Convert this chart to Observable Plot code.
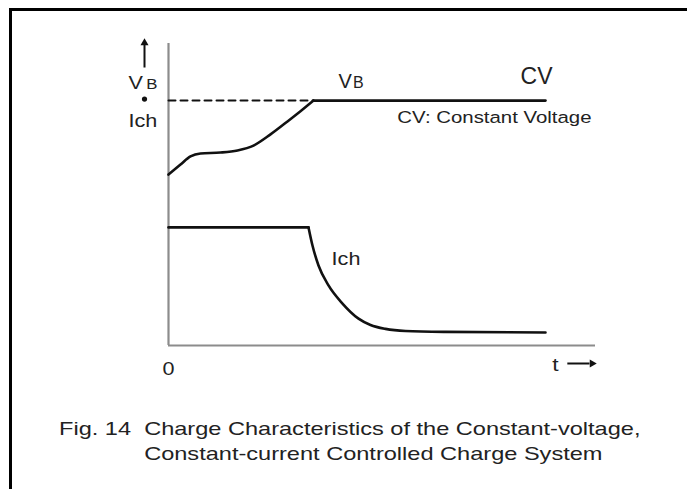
<!DOCTYPE html>
<html>
<head>
<meta charset="utf-8">
<script src="https://cdn.jsdelivr.net/npm/d3@7"></script>
<script src="https://cdn.jsdelivr.net/npm/@observablehq/plot@0.6"></script>
<style>
  html, body { margin: 0; padding: 0; background: #fff; }
  body { width: 687px; height: 489px; position: relative; overflow: hidden; font-family: "Liberation Sans", Arial, sans-serif; }
  #frame { position: absolute; left: 9px; top: 8px; width: 700px; height: 500px; border-top: 3px solid #000; border-left: 3px solid #000; pointer-events: none; }
  #chart { position: absolute; left: 0; top: 0; }
  #caption { position: absolute; left: 59px; top: 416px; display: flex; font-size: 19px; line-height: 25px; color: #222; white-space: pre; transform: scaleX(1.24); transform-origin: 0 0; }
</style>
</head>
<body>
<div id="chart"></div>
<div id="caption"><span>Fig. 14  </span><span>Charge Characteristics of the Constant-voltage,
Constant-current Controlled Charge System</span></div>
<div id="frame"></div>
<script>
// Time axis (0–100) and level axis (0–100)
const vbTime = [0, 2.81, 5.15, 7.49, 12.18, 16.16, 19.91, 23.89, 27.87, 30.91, 33.96];
const vbLevel = [56.6, 59.9, 62.6, 63.6, 63.9, 64.6, 66.2, 69.9, 74.2, 77.6, 81.1];
const cvTime = [33.96, 88.29];
const cvLevel = [81.1, 81.1];
const ichFlatTime = [0, 32.79];
const ichFlatLevel = [39.1, 39.1];
const ichDecayTime = [32.79, 33.72, 35.13, 37.47, 40.75, 44.5, 47.31, 50.82, 55.5, 64.87, 88.29];
const ichDecayLevel = [39.1, 33.1, 26.5, 19.9, 13.9, 8.9, 6.8, 5.5, 4.8, 4.5, 4.3];
const vbTarget = 81.1;
const vbTargetEnd = 33.96;

const zip = (xs, ys) => xs.map((x, i) => ({t: x, v: ys[i]}));
const vb = zip(vbTime, vbLevel);
const cv = zip(cvTime, cvLevel);
const ichFlat = zip(ichFlatTime, ichFlatLevel);
const ichDecay = zip(ichDecayTime, ichDecayLevel);
const dashed = [{t: 0, v: vbTarget}, {t: vbTargetEnd, v: vbTarget}];

const ink = "#111";
const txt = "#222";
const font = "Liberation Sans, Arial, sans-serif";
const lbl = (t, v, s, size, anchor = "start", cls = "wide") =>
  Plot.text([{t, v}], {x: "t", y: "v", text: () => s, fontSize: size, fill: txt, textAnchor: anchor, lineAnchor: "bottom", className: cls});

const chart = Plot.plot({
  width: 687,
  height: 489,
  marginLeft: 168,
  marginRight: 92,
  marginTop: 43,
  marginBottom: 144,
  x: {domain: [0, 100], axis: null},
  y: {domain: [0, 100], axis: null},
  style: {fontFamily: font, background: "transparent"},
  marks: [
    Plot.ruleX([0], {y1: 0, y2: 100, stroke: "#8c8c8c", strokeWidth: 2.2}),
    Plot.ruleY([0], {x1: 0, x2: 100, stroke: "#8c8c8c", strokeWidth: 2.2}),
    Plot.line(dashed, {x: "t", y: "v", stroke: ink, strokeWidth: 2, strokeDasharray: "7,5"}),
    Plot.line(vb, {x: "t", y: "v", stroke: ink, strokeWidth: 2.6, curve: "monotone-x"}),
    Plot.line(cv, {x: "t", y: "v", stroke: ink, strokeWidth: 2.6}),
    Plot.line(ichFlat, {x: "t", y: "v", stroke: ink, strokeWidth: 2.6}),
    Plot.line(ichDecay, {x: "t", y: "v", stroke: ink, strokeWidth: 2.6, curve: "monotone-x"}),
    // left axis label: arrow, VB, dot, Ich
    Plot.link([{x1: -5.62, y1: 92.05, x2: -5.62, y2: 99.5}], {x1: "x1", y1: "y1", x2: "x2", y2: "y2", stroke: ink, strokeWidth: 2}),
    Plot.dot([{t: -5.62, v: 100.2}], {x: "t", y: "v", symbol: "triangle", r: 3, fill: ink, stroke: null}),
    lbl(-9.37, 84.8, "V", 18),
    lbl(-5.2, 84.8, "B", 14),
    Plot.dot([{t: -5.62, v: 81.6}], {x: "t", y: "v", r: 2.6, fill: ink, stroke: null}),
    lbl(-9.37, 72.2, "Ich", 18),
    // curve labels
    lbl(39.8, 85.4, "V", 20, "start", "plain"),
    lbl(43.2, 85.4, "B", 16, "start", "plain"),
    lbl(86.2, 86.6, "CV", 23, "middle", "plain"),
    lbl(53.6, 73.8, "CV: Constant Voltage", 17),
    lbl(38.2, 26.8, "Ich", 18),
    // x axis labels
    lbl(0, -9.9, "0", 18, "middle"),
    lbl(90.6, -8.6, "t", 19, "middle"),
    Plot.link([{x1: 93.4, y1: -5.96, x2: 98.6, y2: -5.96}], {x1: "x1", y1: "y1", x2: "x2", y2: "y2", stroke: ink, strokeWidth: 2}),
    Plot.dot([{t: 99.2, v: -5.96}], {x: "t", y: "v", symbol: "triangle", rotate: 90, r: 3, fill: ink, stroke: null})
  ]
});
// the source lettering is wider than Arial: stretch those labels horizontally about their anchor
chart.querySelectorAll("g.wide text").forEach((el) => {
  const tr = el.getAttribute("transform") || "";
  const x = +(el.getAttribute("x") || 0);
  el.setAttribute("transform", `${tr} translate(${x},0) scale(1.2,1) translate(${-x},0)`);
});
document.getElementById("chart").appendChild(chart);
</script>
</body>
</html>
